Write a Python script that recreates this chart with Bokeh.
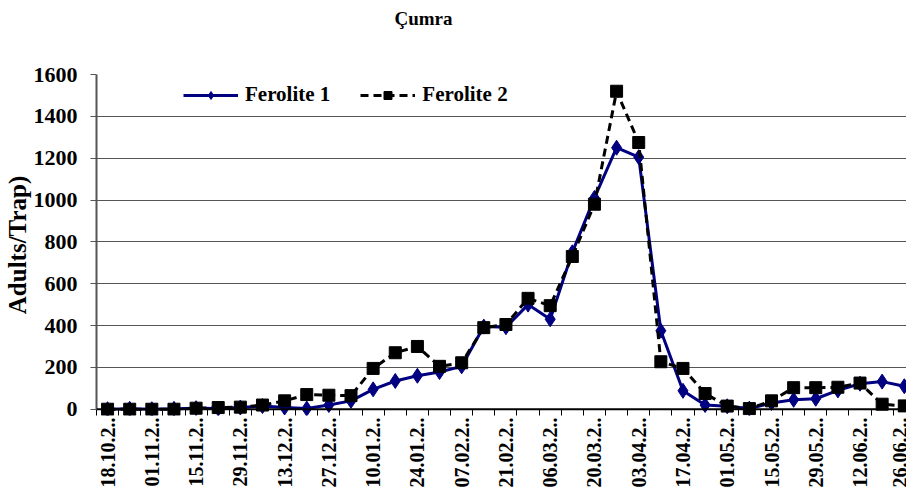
import math
from bokeh.plotting import figure
from bokeh.models import FixedTicker, Range1d, Legend, Span, Title
from bokeh.embed import file_html
from bokeh.resources import INLINE

dates = ["18.10", "25.10", "01.11", "08.11", "15.11", "22.11", "29.11", "06.12",
         "13.12", "20.12", "27.12", "03.01", "10.01", "17.01", "24.01", "31.01",
         "07.02", "14.02", "21.02", "28.02", "06.03", "13.03", "20.03", "27.03",
         "03.04", "10.04", "17.04", "24.04", "01.05", "08.05", "15.05", "22.05",
         "29.05", "05.06", "12.06", "19.06", "26.06"]

ferolite1 = [0, 2, 0, 2, 5, 3, 8, 15, 8, 3, 20, 40, 95, 135, 160, 178, 205,
             395, 392, 500, 430, 750, 1010, 1250, 1205, 375, 88, 20, 14, 3,
             30, 45, 50, 90, 122, 132, 110]

ferolite2 = [0, 0, 0, 0, 5, 8, 10, 20, 40, 70, 67, 65, 195, 270, 300, 205,
             222, 390, 405, 530, 495, 730, 980, 1520, 1275, 227, 195, 75, 15, 3,
             40, 103, 103, 105, 125, 24, 16]

y_ticks = [0, 200, 400, 600, 800, 1000, 1200, 1400, 1600]
title_text = "Çumra"

x = list(range(len(dates)))
FONT = "Liberation Serif"

p = figure(width=906, height=490, output_backend="svg", toolbar_location=None,
           x_range=Range1d(-0.5, 36.1), y_range=Range1d(-30, 1600),
           min_border_left=88, min_border_right=0, min_border_top=74,
           min_border_bottom=74)
p.outline_line_color = None
p.background_fill_color = "white"
p.border_fill_color = "white"

p.title = Title(text=title_text, align="left", offset=298, standoff=14,
                vertical_align="top",
                text_font=FONT, text_font_size="19px", text_font_style="bold",
                text_color="black")
# empty spacer between the title and the plot area
p.add_layout(Title(text=" ", text_font_size="1px", standoff=34), "above")

# grid
p.xgrid.visible = False
p.ygrid.ticker = FixedTicker(ticks=y_ticks)
p.ygrid.grid_line_color = "#555555"
p.ygrid.grid_line_width = 1

# base line at zero (category axis line)
p.add_layout(Span(location=0, dimension="width", line_color="black",
                  line_width=2))

# lines
l1 = p.line(x, ferolite1, line_color="#000080", line_width=3)
m1 = p.scatter(x, ferolite1, marker="diamond", size=15, fill_color="#000080",
               line_color="#000080")
l2 = p.line(x, ferolite2, line_color="black", line_width=3, line_dash="8 5")
m2 = p.scatter(x, ferolite2, marker="square", size=12, fill_color="black",
               line_color="black")

legend = Legend(items=[("Ferolite 1", [l1, m1]), ("Ferolite 2", [l2, m2])],
                orientation="horizontal", location=(87, 308),
                glyph_width=55, glyph_height=20, label_standoff=7, spacing=30,
                padding=0, margin=0, border_line_color=None,
                background_fill_alpha=0,
                label_text_font=FONT, label_text_font_size="21px",
                label_text_font_style="bold", label_text_color="black")
p.add_layout(legend, "center")

# y axis
p.yaxis.ticker = FixedTicker(ticks=y_ticks)
p.yaxis.bounds = (0, 1600)
p.yaxis.axis_label = "Adults/Trap)"
p.yaxis.axis_label_text_font = FONT
p.yaxis.axis_label_text_font_size = "25px"
p.yaxis.axis_label_text_font_style = "bold"
p.yaxis.axis_label_text_color = "black"
p.yaxis.axis_label_standoff = 0
p.yaxis.major_label_text_font = FONT
p.yaxis.major_label_text_font_size = "22px"
p.yaxis.major_label_text_font_style = "bold"
p.yaxis.major_label_text_color = "black"
p.yaxis.axis_line_color = "#555555"
p.yaxis.axis_line_width = 2
p.yaxis.major_tick_line_color = "#555555"
p.yaxis.major_tick_out = 6
p.yaxis.major_tick_in = 0
p.yaxis.minor_tick_line_color = None
p.yaxis.major_label_standoff = 13

# x axis: labels on every other date, tick marks between categories
label_idx = list(range(0, len(dates), 2))
boundaries = [i - 0.5 for i in range(len(dates) + 1)]
p.xaxis.ticker = FixedTicker(ticks=label_idx, minor_ticks=boundaries)
p.xaxis.major_label_overrides = {i: dates[i] + ".2.." for i in label_idx}
p.xaxis.major_label_orientation = math.pi / 2
p.xaxis.major_label_text_font = FONT
p.xaxis.major_label_text_font_size = "20px"
p.xaxis.major_label_text_font_style = "bold"
p.xaxis.major_label_text_color = "black"
p.xaxis.axis_line_color = None
p.xaxis.major_tick_out = 0
p.xaxis.major_tick_in = 0
p.xaxis.minor_tick_out = 0
p.xaxis.minor_tick_in = 6
p.xaxis.minor_tick_line_color = "black"
p.xaxis.minor_tick_line_width = 1
p.xaxis.major_label_standoff = 2

open("out.html", "w").write(file_html(p, INLINE))
